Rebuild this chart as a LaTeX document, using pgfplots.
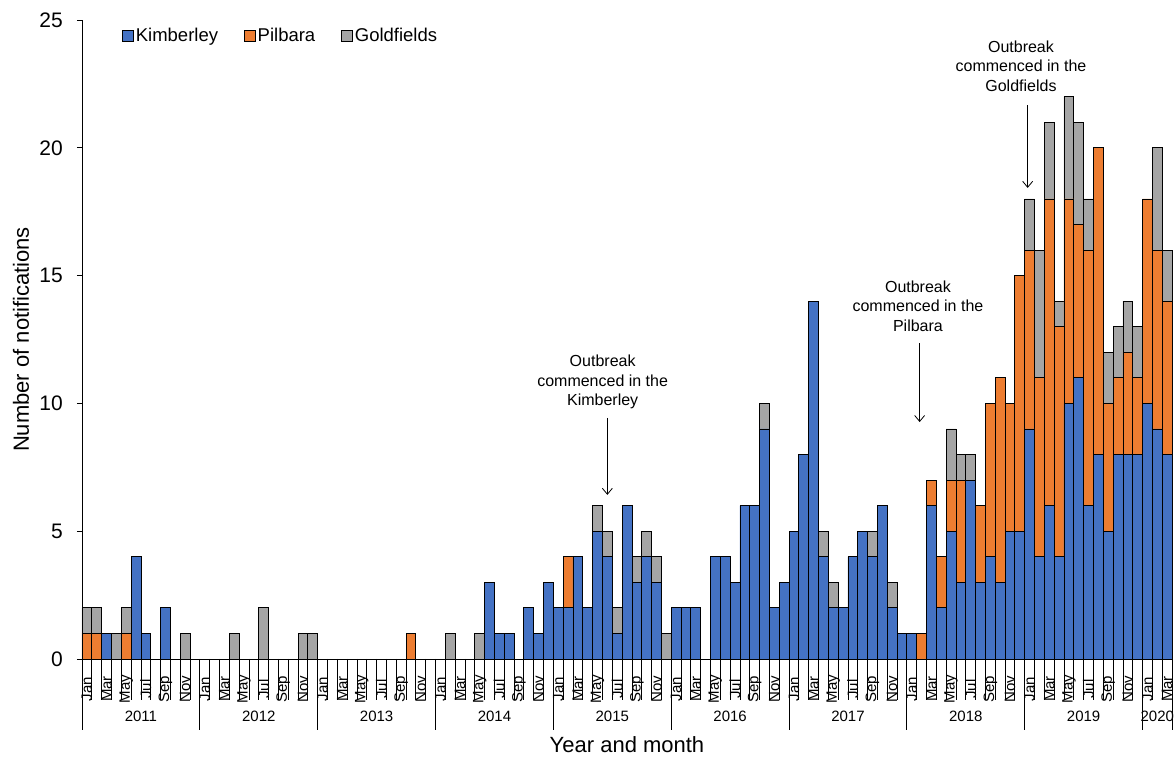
\documentclass[border=0pt]{standalone}
\usepackage{fontspec}
\setmainfont{Liberation Sans}
\usepackage{pgfplots}
\usepackage{pgfplotstable}
\pgfplotsset{compat=1.18}
\usetikzlibrary{arrows.meta}

\definecolor{kimb}{HTML}{4472C4}
\definecolor{pilb}{HTML}{ED7D31}
\definecolor{gold}{HTML}{A5A5A5}

% month index (0 = Jan 2011), Kimberley, Pilbara, Goldfields
\pgfplotstableread{
m K P G
0 0 1 1
1 0 1 1
2 1 0 0
3 0 0 1
4 0 1 1
5 4 0 0
6 1 0 0
7 0 0 0
8 2 0 0
9 0 0 0
10 0 0 1
11 0 0 0
12 0 0 0
13 0 0 0
14 0 0 0
15 0 0 1
16 0 0 0
17 0 0 0
18 0 0 2
19 0 0 0
20 0 0 0
21 0 0 0
22 0 0 1
23 0 0 1
24 0 0 0
25 0 0 0
26 0 0 0
27 0 0 0
28 0 0 0
29 0 0 0
30 0 0 0
31 0 0 0
32 0 0 0
33 0 1 0
34 0 0 0
35 0 0 0
36 0 0 0
37 0 0 1
38 0 0 0
39 0 0 0
40 0 0 1
41 3 0 0
42 1 0 0
43 1 0 0
44 0 0 0
45 2 0 0
46 1 0 0
47 3 0 0
48 2 0 0
49 2 2 0
50 4 0 0
51 2 0 0
52 5 0 1
53 4 0 1
54 1 0 1
55 6 0 0
56 3 0 1
57 4 0 1
58 3 0 1
59 0 0 1
60 2 0 0
61 2 0 0
62 2 0 0
63 0 0 0
64 4 0 0
65 4 0 0
66 3 0 0
67 6 0 0
68 6 0 0
69 9 0 1
70 2 0 0
71 3 0 0
72 5 0 0
73 8 0 0
74 14 0 0
75 4 0 1
76 2 0 1
77 2 0 0
78 4 0 0
79 5 0 0
80 4 0 1
81 6 0 0
82 2 0 1
83 1 0 0
84 1 0 0
85 0 1 0
86 6 1 0
87 2 2 0
88 5 2 2
89 3 4 1
90 7 0 1
91 3 3 0
92 4 6 0
93 3 8 0
94 5 5 0
95 5 10 0
96 9 7 2
97 4 7 5
98 6 12 3
99 4 9 1
100 10 8 4
101 11 6 4
102 6 10 2
103 8 12 0
104 5 5 2
105 8 3 2
106 8 4 2
107 8 3 2
108 10 8 0
109 9 7 4
110 8 6 2
}\datatable

\pgfplotsset{
  sqlegend/.style={legend image code/.code={%
    \draw[##1,draw=black,line width=0.6pt] (0pt,-5.5pt) rectangle (11pt,5.5pt);}},
}
\newcommand{\annfont}{\fontsize{16}{19.5}\selectfont}
\newcommand{\yearfont}{\fontsize{15}{15}\selectfont}

\begin{document}
\begin{tikzpicture}
\path[use as bounding box] (-82pt,-98pt) rectangle (1093pt,659pt);
\begin{axis}[
  at={(0pt,0pt)}, anchor=south west,
  scale only axis,
  width=1090pt, height=639pt,
  ybar stacked, bar width=1,
  xmin=-0.5, xmax=110.5, ymin=0, ymax=25,
  enlargelimits=false,
  clip=false,
  axis x line*=bottom, axis y line*=left,
  axis line style={-, black, line width=0.8pt},
  ytick={0,5,...,25},
  tick align=outside,
  major tick length=5pt,
  ytick style={black, line width=0.8pt},
  xtick style={draw=none},
  /pgf/number format/assume math mode=true,
  yticklabel style={font=\fontsize{21}{21}\selectfont, inner sep=0pt, xshift=-14pt},
  xtick={0,2,...,110},
  xticklabels={Jan,Mar,May,Jul,Sep,Nov,Jan,Mar,May,Jul,Sep,Nov,
    Jan,Mar,May,Jul,Sep,Nov,Jan,Mar,May,Jul,Sep,Nov,
    Jan,Mar,May,Jul,Sep,Nov,Jan,Mar,May,Jul,Sep,Nov,
    Jan,Mar,May,Jul,Sep,Nov,Jan,Mar,May,Jul,Sep,Nov,
    Jan,Mar,May,Jul,Sep,Nov,Jan,Mar},
  xticklabel shift=25pt,
  xticklabel style={rotate=90, anchor=center, inner sep=0pt,
    font=\fontsize{15}{15}\selectfont},
  xlabel={Year and month},
  xlabel style={at={(axis description cs:0.5,-0.1343)}, anchor=center,
    font=\fontsize{22}{22}\selectfont},
  ylabel={Number of notifications},
  ylabel style={at={(axis description cs:-0.056,0.5)}, anchor=center,
    font=\fontsize{22}{22}\selectfont},
  sqlegend,
  legend style={at={(axis description cs:0.034,0.994)}, anchor=north west,
    draw=none, fill=none, legend columns=-1,
    font=\fontsize{18.5}{18.5}\selectfont,
    /tikz/every even column/.append style={column sep=24pt}},
]
\addplot[fill=kimb, draw=black, line width=0.8pt] table[x=m,y=K]{\datatable};
\addplot[fill=pilb, draw=black, line width=0.8pt] table[x=m,y=P]{\datatable};
\addplot[fill=gold, draw=black, line width=0.8pt] table[x=m,y=G]{\datatable};
\legend{Kimberley,Pilbara,Goldfields}

% month separators and year separators
\pgfplotsinvokeforeach{0,...,111}{
  \draw[black, line width=0.8pt] (axis cs:#1-0.5,0) -- ++(0pt,-41pt);
}
\pgfplotsinvokeforeach{-0.5,11.5,23.5,35.5,47.5,59.5,71.5,83.5,95.5,107.5,110.5}{
  \draw[black, line width=0.8pt] (axis cs:#1,0) ++(0pt,-41pt) -- ++(0pt,-30pt);
}
\node[font=\yearfont, yshift=-57pt] at (axis cs:5.5,0) {2011};
\node[font=\yearfont, yshift=-57pt] at (axis cs:17.5,0) {2012};
\node[font=\yearfont, yshift=-57pt] at (axis cs:29.5,0) {2013};
\node[font=\yearfont, yshift=-57pt] at (axis cs:41.5,0) {2014};
\node[font=\yearfont, yshift=-57pt] at (axis cs:53.5,0) {2015};
\node[font=\yearfont, yshift=-57pt] at (axis cs:65.5,0) {2016};
\node[font=\yearfont, yshift=-57pt] at (axis cs:77.5,0) {2017};
\node[font=\yearfont, yshift=-57pt] at (axis cs:89.5,0) {2018};
\node[font=\yearfont, yshift=-57pt] at (axis cs:101.5,0) {2019};
\node[font=\yearfont, yshift=-57pt] at (axis cs:109,0) {2020};

% annotations
\node[font=\annfont, align=center] at (axis cs:52.52,10.84) {Outbreak\\commenced in the\\Kimberley};
\node[font=\annfont, align=center] at (axis cs:84.63,13.81) {Outbreak\\commenced in the\\Pilbara};
\node[font=\annfont, align=center] at (axis cs:95.12,23.2) {Outbreak\\commenced in the\\Goldfields};
\draw[-{Straight Barb[length=6pt,width=10pt]}, line width=0.8pt] (axis cs:53,9.43) -- (axis cs:53,6.42);
\draw[-{Straight Barb[length=6pt,width=10pt]}, line width=0.8pt] (axis cs:84.8,12.36) -- (axis cs:84.8,9.27);
\draw[-{Straight Barb[length=6pt,width=10pt]}, line width=0.8pt] (axis cs:95.8,21.67) -- (axis cs:95.8,18.43);
\end{axis}
\end{tikzpicture}
\end{document}
